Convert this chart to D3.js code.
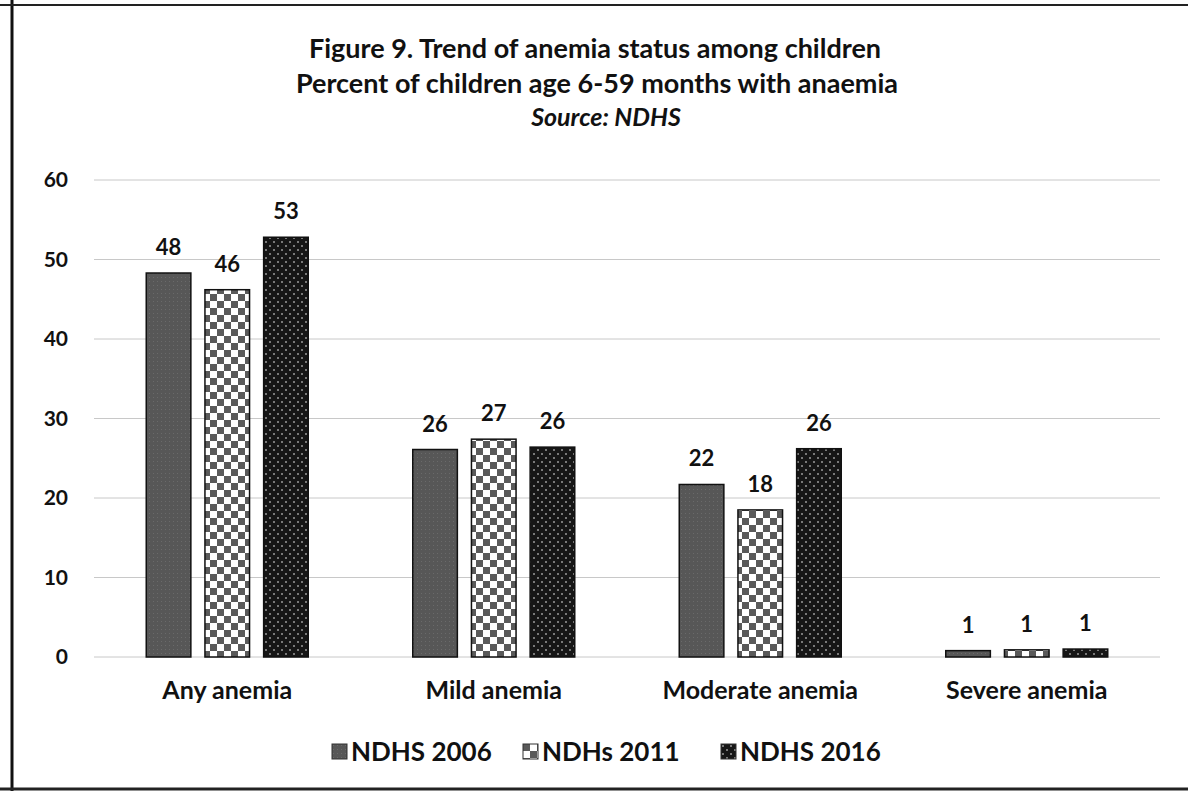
<!doctype html>
<html lang="en">
<head>
    <meta charset="utf-8">
    <title>Trend of anemia status among children</title>
    <script src="https://cdn.jsdelivr.net/npm/d3@7"></script>
    <style>
        body { margin: 0; background: #ffffff; }
        svg { display: block; font-family: Lato, "Open Sans", sans-serif; font-weight: bold; }
    </style>
</head>
<body>
    <svg></svg>
    <script>
        var width = 1188;
        var height = 791;

        var categories = ["Any anemia", "Mild anemia", "Moderate anemia", "Severe anemia"];
        var seriesNames = ["NDHS 2006", "NDHs 2011", "NDHS 2016"];
        var ndhs2006 = [48.3, 26.1, 21.7, 0.8];
        var ndhs2011 = [46.2, 27.4, 18.5, 0.9];
        var ndhs2016 = [52.8, 26.4, 26.2, 1.0];
        var labels2006 = ["48", "26", "22", "1"];
        var labels2011 = ["46", "27", "18", "1"];
        var labels2016 = ["53", "26", "26", "1"];
        var yTicks = [0, 10, 20, 30, 40, 50, 60];

        var series = [
            { name: seriesNames[0], values: ndhs2006, labels: labels2006, fill: "url(#p2006)" },
            { name: seriesNames[1], values: ndhs2011, labels: labels2011, fill: "url(#p2011)" },
            { name: seriesNames[2], values: ndhs2016, labels: labels2016, fill: "url(#p2016)" }
        ];

        var svg = d3.select('svg').attr('width', width).attr('height', height);
        var defs = svg.append('defs');

        // fill patterns
        var p1 = defs.append('pattern').attr('id', 'p2006').attr('patternUnits', 'userSpaceOnUse')
            .attr('width', 4).attr('height', 4);
        p1.append('rect').attr('width', 4).attr('height', 4).attr('fill', '#575757');
        p1.append('rect').attr('width', 1).attr('height', 1).attr('x', 1).attr('y', 1).attr('fill', '#6a6a6a');

        var p2 = defs.append('pattern').attr('id', 'p2011').attr('patternUnits', 'userSpaceOnUse')
            .attr('width', 14).attr('height', 14);
        p2.append('rect').attr('width', 14).attr('height', 14).attr('fill', '#ffffff');
        p2.append('rect').attr('width', 7).attr('height', 7).attr('fill', '#5a5a5a');
        p2.append('rect').attr('x', 7).attr('y', 7).attr('width', 7).attr('height', 7).attr('fill', '#5a5a5a');

        var p3 = defs.append('pattern').attr('id', 'p2016').attr('patternUnits', 'userSpaceOnUse')
            .attr('width', 8).attr('height', 8);
        p3.append('rect').attr('width', 8).attr('height', 8).attr('fill', '#161616');
        p3.append('circle').attr('cx', 2).attr('cy', 2).attr('r', 1).attr('fill', '#9a9a9a');
        p3.append('circle').attr('cx', 6).attr('cy', 6).attr('r', 1).attr('fill', '#9a9a9a');

        // frame
        svg.append('line').attr('x1', 12).attr('x2', 12).attr('y1', 0).attr('y2', height)
            .attr('stroke', '#111').attr('stroke-width', 3);
        svg.append('line').attr('x1', 0).attr('x2', width).attr('y1', 5).attr('y2', 5)
            .attr('stroke', '#222').attr('stroke-width', 2);
        svg.append('line').attr('x1', 0).attr('x2', width).attr('y1', 789).attr('y2', 789)
            .attr('stroke', '#222').attr('stroke-width', 3);

        // titles
        svg.append('text').attr('x', 595).attr('y', 58).attr('text-anchor', 'middle')
            .attr('font-size', 27).attr('fill', '#111').text('Figure 9. Trend of anemia status among children');
        svg.append('text').attr('x', 597).attr('y', 93).attr('text-anchor', 'middle')
            .attr('font-size', 27).attr('fill', '#111').text('Percent of children age 6-59 months with anaemia');
        svg.append('text').attr('x', 606).attr('y', 126).attr('text-anchor', 'middle')
            .attr('font-size', 25).attr('font-style', 'italic').attr('fill', '#111').text('Source: NDHS');

        var x0 = d3.scaleBand().domain(categories).range([94, 1160]);
        var x1 = d3.scaleBand().domain(seriesNames).range([0, 162]).paddingInner(0.24);

        var yScale = d3.scaleLinear().domain([0, 60]).range([657, 180]);

        // gridlines
        svg.append('g').selectAll('line').data(yTicks).enter().append('line')
            .attr('x1', 94).attr('x2', 1160)
            .attr('y1', function (d) { return yScale(d); })
            .attr('y2', function (d) { return yScale(d); })
            .attr('stroke', '#c8c8c8').attr('stroke-width', 1);

        var yAxis = d3.axisLeft().scale(yScale).tickValues(yTicks).tickSize(0).tickPadding(12);
        var gy = svg.append('g').attr('transform', 'translate(80, 0)').call(yAxis);
        gy.select('.domain').remove();
        gy.selectAll('text').attr('font-size', 21).attr('fill', '#111')
            .attr('font-family', 'Lato, sans-serif').attr('font-weight', 'bold');

        var xAxis = d3.axisBottom().scale(x0).tickSize(0).tickPadding(13);
        var gx = svg.append('g').attr('transform', 'translate(0, 668)').call(xAxis);
        gx.select('.domain').remove();
        gx.selectAll('text').attr('font-size', 25).attr('fill', '#111')
            .attr('font-family', 'Lato, sans-serif').attr('font-weight', 'bold');

        var groups = svg.append('g').selectAll('g').data(series).enter().append('g');

        groups.selectAll('rect').data(function (s) {
            return categories.map(function (c, i) { return { s: s, c: c, v: s.values[i] }; });
        }).enter().append('rect')
            .attr('x', function (d) { return x0(d.c) + (x0.bandwidth() - 162) / 2 + x1(d.s.name); })
            .attr('y', function (d) { return yScale(d.v); })
            .attr('width', x1.bandwidth())
            .attr('height', function (d) { return yScale(0) - yScale(d.v); })
            .attr('fill', function (d) { return d.s.fill; })
            .attr('stroke', '#111').attr('stroke-width', 1.5);

        groups.selectAll('text').data(function (s) {
            return categories.map(function (c, i) { return { s: s, c: c, v: s.values[i], l: s.labels[i] }; });
        }).enter().append('text')
            .attr('x', function (d) { return x0(d.c) + (x0.bandwidth() - 162) / 2 + x1(d.s.name) + x1.bandwidth() / 2; })
            .attr('y', function (d) { return yScale(d.v) - 18; })
            .attr('text-anchor', 'middle').attr('font-size', 22).attr('fill', '#111')
            .text(function (d) { return d.l; });

        // legend
        var legendX = [332, 523, 721];
        var legend = svg.append('g').selectAll('g').data(series).enter().append('g')
            .attr('transform', function (d, i) { return 'translate(' + legendX[i] + ', 744)'; });
        legend.append('rect').attr('width', 15).attr('height', 15)
            .attr('fill', function (d) { return d.fill; })
            .attr('stroke', '#333').attr('stroke-width', 1);
        legend.append('text').attr('x', 19).attr('y', 17).attr('font-size', 26).attr('fill', '#111')
            .text(function (d) { return d.name; });
    </script>
</body>
</html>
